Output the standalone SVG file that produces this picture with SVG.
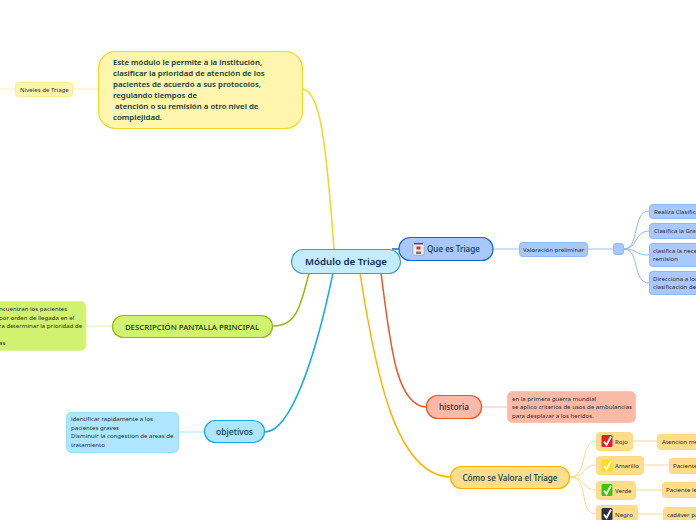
<svg xmlns="http://www.w3.org/2000/svg" width="696" height="520" viewBox="0 0 696 520">
<style>
text{font-family:"Noto Sans","Open Sans",sans-serif;fill:#0b3b3b}
.s{font-size:6.1px;fill:#2b2b2b}
.b{font-size:7.850px;font-weight:600}
.c{fill:none;stroke-width:1.5}
.t{fill:none;stroke-width:1}
.ck{fill:none;stroke:#fff;stroke-width:1.8}
</style>
<rect width="696" height="520" fill="#fff"/>
<g id="connectors">
<path class="c" stroke="#f2d91c" d="M303 89C320 92 326 140 334 249"/>
<path class="c" stroke="#94bb0c" d="M273 326C295 326 300 310 309 273"/>
<path class="c" stroke="#12aaee" d="M265 432C290 432 315 360 333 273"/>
<path class="c" stroke="#ee5522" d="M426 407C395 405 390 340 381 273"/>
<path class="c" stroke="#ffb300" d="M450 477C395 475 375 370 360 273"/>
<path class="c" stroke="#1166cc" d="M399 249L392 249"/>
<path class="t" stroke="#fdf0a0" d="M0 89H15M72 89H98"/>
<path class="t" stroke="#e0f0b0" stroke-width="2" d="M86 326H112"/>
<path class="t" stroke="#a8e4ff" d="M178 432H204"/>
<path class="t" stroke="#9cc4ff" d="M493 249H519M588 249H613"/>
<path class="t" stroke="#fcc4b4" d="M481 407H507"/>
<path class="t" stroke="#8fb8f5" d="M624 249C640 249 632 211 649 211M624 249C638 249 634 231 649 231M624 249C638 249 634 255 649 255M624 249C640 249 632 283 649 283"/>
<path class="t" stroke="#fdd98a" d="M570 477C588 477 580 441 596 441M570 477C586 477 582 465 596 465M570 477C586 477 582 490 596 490M570 477C590 477 578 514 596 514M632 441H657M643 465H669M636 490H662M636 514H663"/>
</g>
<g id="central"><rect x="291.500" y="249.500" width="109" height="24" rx="12" fill="#c4ecff" stroke="#3f9bd0" stroke-width="1.200"/><text x="346" y="265" text-anchor="middle" font-size="9.700" font-weight="600" style="fill:#0b2b5b">Módulo de Triage</text></g>
<g id="modulo"><rect x="98.500" y="51.500" width="204" height="77" rx="17" fill="#fff5ae" stroke="#f2d91c" stroke-width="1.200"/>
<text class="b"><tspan x="113" y="65">Este módulo le permite a la institución,</tspan><tspan x="113" y="76">clasificar la prioridad de atención de los</tspan><tspan x="113" y="87">pacientes de acuerdo a sus protocolos,</tspan><tspan x="113" y="98">regulando tiempos de</tspan><tspan x="115" y="109">atención o su remisión a otro nivel de</tspan><tspan x="113" y="120">complejidad.</tspan></text></g>
<g id="niveles"><rect x="15.500" y="82.500" width="57" height="14" rx="3" fill="#fff5ae" stroke="#fbec98"/><text class="s" x="20" y="91.500">Niveles de Triage</text></g>
<g id="descripcion"><rect x="112.500" y="315.500" width="160" height="22" rx="11" fill="#d0f270" stroke="#94bb0c" stroke-width="1.200"/><text x="192" y="330" text-anchor="middle" font-size="7.850" font-weight="500">DESCRIPCIÓN PANTALLA PRINCIPAL</text></g>
<g id="descripcion-texto"><rect x="-20" y="301.500" width="106" height="49" rx="5" fill="#d0f270" stroke="#dff59c"/><text class="s"><tspan x="-1" y="311">ncuentran los pacientes</tspan><tspan x="-1" y="319.500">por orden de llegada en el</tspan><tspan x="-1" y="328">ra determinar la prioridad de</tspan><tspan x="-1" y="345">as</tspan></text></g>
<g id="objetivos"><rect x="204.500" y="420.500" width="60" height="22" rx="11" fill="#aee6ff" stroke="#12aaee" stroke-width="1.200"/><text x="234.500" y="435" text-anchor="middle" font-size="8.500" font-weight="500">objetivos</text></g>
<g id="objetivos-texto"><rect x="66.500" y="412.500" width="112" height="40" rx="5" fill="#aee6ff" stroke="#9cdcfb"/><text class="s"><tspan x="71" y="421">identificar rapidamente a los</tspan><tspan x="71" y="430">pacientes graves</tspan><tspan x="71" y="438">Disminuir la congestion de areas de</tspan><tspan x="71" y="447">tratamiento</tspan></text></g>
<g id="que-es"><rect x="399" y="237.500" width="94" height="23" rx="11" fill="#a8c8ff" stroke="#1166cc" stroke-width="1.200"/>
<rect x="413" y="243" width="11" height="12" rx="1" fill="#eee" stroke="#888" stroke-width=".5"/><rect x="414" y="243" width="9" height="1.500" fill="#555"/><rect x="416.500" y="246.500" width="4" height="3" fill="#d92b2b"/><rect x="416" y="251.500" width="5" height="2.500" fill="#777"/>
<text x="427" y="252" font-size="8.100" font-weight="500">Que es Triage</text></g>
<g id="valoracion"><rect x="519.500" y="242.500" width="68" height="14" rx="3" fill="#a8c8ff" stroke="#8fb8f5"/><text class="s" x="523" y="251.500">Valoración preliminar</text></g>
<g id="nodo-vacio"><rect x="613.500" y="243.500" width="10" height="11" rx="2.500" fill="#a8c8ff" stroke="#8fb8f5"/></g>
<g id="realiza"><rect x="649.500" y="204.500" width="60" height="14" rx="3" fill="#a8c8ff" stroke="#8fb8f5"/><text class="s" x="654" y="213.500">Realiza Clasifica</text></g>
<g id="clasifica"><rect x="649.500" y="223.500" width="60" height="15" rx="3" fill="#a8c8ff" stroke="#8fb8f5"/><text class="s" x="654" y="233">Clasifica la Gra</text></g>
<g id="necesidad"><rect x="649.500" y="243.500" width="60" height="23" rx="3" fill="#a8c8ff" stroke="#8fb8f5"/><text class="s"><tspan x="653" y="252.500">clasifica la nece</tspan><tspan x="653" y="261">remision</tspan></text></g>
<g id="direcciona"><rect x="649.500" y="271.500" width="60" height="23" rx="3" fill="#a8c8ff" stroke="#8fb8f5"/><text class="s"><tspan x="653" y="280.500">Direcciona a los</tspan><tspan x="653" y="289">clasificación de</tspan></text></g>
<g id="historia"><rect x="426.500" y="395.500" width="55" height="23" rx="11" fill="#fbb9a8" stroke="#ee5522" stroke-width="1.200"/><text x="454" y="410" text-anchor="middle" font-size="8.300" font-weight="500">historia</text></g>
<g id="historia-texto"><rect x="507.500" y="391.500" width="128" height="31" rx="5" fill="#fbb9a8" stroke="#fcc4b4"/><text class="s"><tspan x="512" y="400.500">en la primera guerra mundial</tspan><tspan x="512" y="409">se aplico criterios de usos de ambulancias</tspan><tspan x="512" y="417.500">para desplazar a los heridos.</tspan></text></g>
<g id="como"><rect x="450.500" y="466.500" width="119" height="22" rx="11" fill="#ffdd8a" stroke="#ffb300" stroke-width="1.200"/><text x="510" y="481" text-anchor="middle" font-size="8.100" font-weight="500">Cómo se Valora el Triage</text></g>
<g id="rojo"><rect x="596.500" y="432.500" width="36" height="18" rx="3" fill="#ffdd8a" stroke="#fdd98a"/><rect x="601.500" y="435" width="11" height="12" rx="1.500" fill="#e32020"/><path class="ck" d="M604 441.500L606.500 445L611 436.500"/><text class="s" x="615" y="444">Rojo</text></g>
<g id="amarillo"><rect x="596.500" y="456.500" width="47" height="18" rx="3" fill="#ffdd8a" stroke="#fdd98a"/><rect x="601.500" y="459.500" width="11" height="12" rx="1.500" fill="#ffdc1a"/><path class="ck" d="M604 466L606.500 469.500L611 461"/><text class="s" x="615" y="468">Amarillo</text></g>
<g id="verde"><rect x="596.500" y="481.500" width="39" height="18" rx="3" fill="#ffdd8a" stroke="#fdd98a"/><rect x="601.500" y="484" width="11" height="12" rx="1.500" fill="#3cc412"/><path class="ck" d="M604 490.500L606.500 494L611 485.500"/><text class="s" x="615" y="493">Verde</text></g>
<g id="negro"><rect x="596.500" y="505.500" width="41" height="18" rx="3" fill="#ffdd8a" stroke="#fdd98a"/><rect x="601.500" y="508" width="11" height="12" rx="1.500" fill="#2f2f45"/><path class="ck" d="M604 514.500L606.500 518L611 509.500"/><text class="s" x="615" y="517">Negro</text></g>
<g id="atencion"><rect x="657.500" y="434.500" width="60" height="15" rx="3" fill="#ffdd8a" stroke="#fdd98a"/><text class="s" x="662" y="444">Atencion me</text></g>
<g id="paciente-a"><rect x="669.500" y="458.500" width="50" height="15" rx="3" fill="#ffdd8a" stroke="#fdd98a"/><text class="s" x="673" y="468">Paciente</text></g>
<g id="paciente-v"><rect x="662.500" y="482.500" width="60" height="15" rx="3" fill="#ffdd8a" stroke="#fdd98a"/><text class="s" x="666" y="492">Paciente le</text></g>
<g id="cadaver"><rect x="663.500" y="507.500" width="60" height="15" rx="3" fill="#ffdd8a" stroke="#fdd98a"/><text class="s" x="667" y="517">cadáver pa</text></g>
</svg>
